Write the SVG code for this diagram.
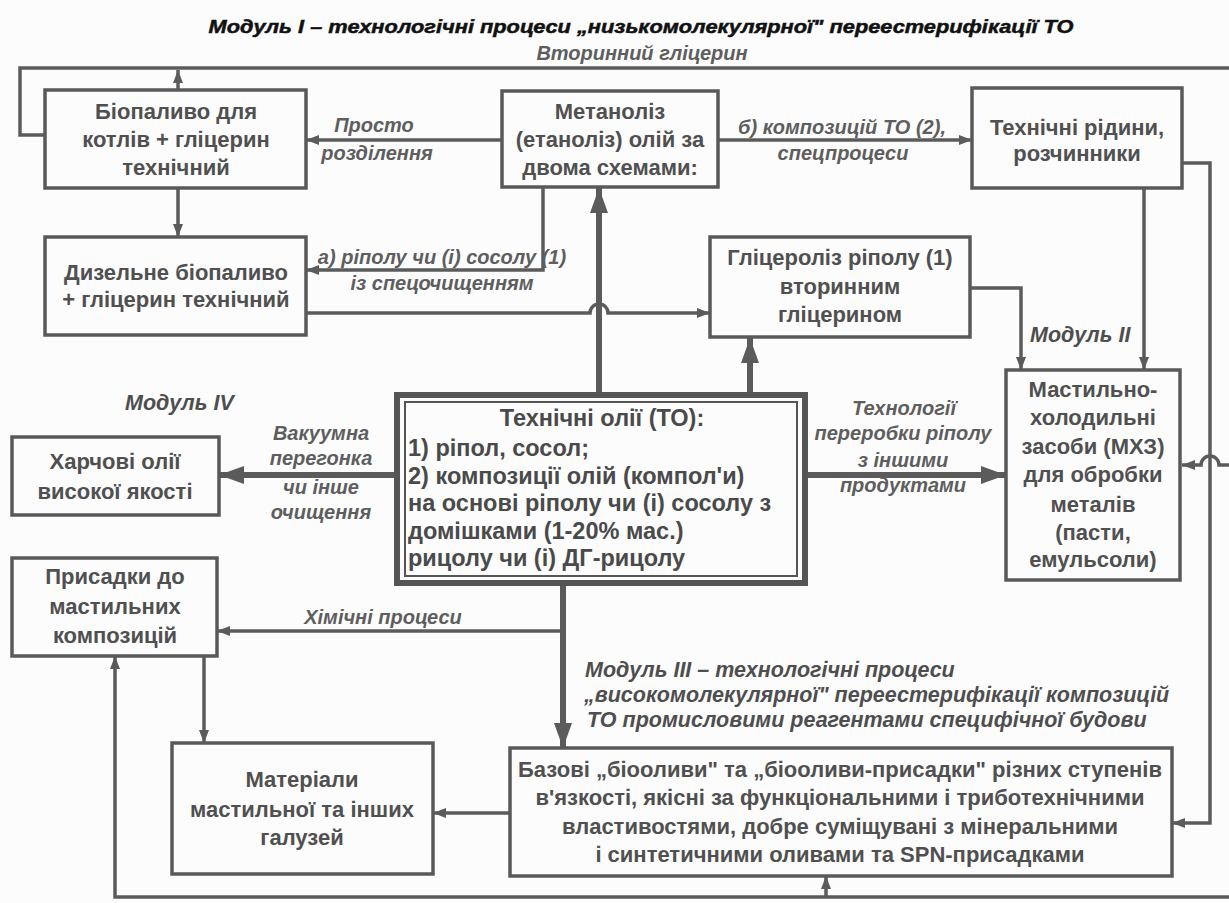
<svg xmlns="http://www.w3.org/2000/svg" width="1229" height="903" viewBox="0 0 1229 903">
<defs>
<style>
.bx{fill:none;stroke:#595959;stroke-width:3.5}
.c{fill:none;stroke:#5b5b5b;stroke-width:3.5}
.ck{fill:none;stroke:#5b5b5b;stroke-width:6}
.t{font-family:"Liberation Sans",Arial,sans-serif;font-weight:bold;font-size:22px;fill:#505050;text-anchor:middle}
.tl{font-family:"Liberation Sans",Arial,sans-serif;font-weight:bold;font-size:23.5px;fill:#4a4a4a}
.l{font-family:"Liberation Sans",Arial,sans-serif;font-weight:bold;font-style:italic;font-size:20px;fill:#5e5e5e;text-anchor:middle}
.m{font-family:"Liberation Sans",Arial,sans-serif;font-weight:bold;font-style:italic;font-size:21.5px;fill:#4e4e4e}
.ti{font-family:"Liberation Sans",Arial,sans-serif;font-weight:bold;font-style:italic;font-size:19px;fill:#111;stroke:#111;stroke-width:0.5;text-anchor:middle}
</style>
<marker id="a" markerUnits="userSpaceOnUse" markerWidth="14" markerHeight="12" refX="13" refY="6" orient="auto"><path d="M0,1 L13,6 L0,11 z" fill="#5b5b5b"/></marker>
<marker id="b" markerUnits="userSpaceOnUse" markerWidth="26" markerHeight="20" refX="25" refY="10" orient="auto"><path d="M0,1 L25,10 L0,19 z" fill="#5b5b5b"/></marker>
</defs>
<rect width="1229" height="903" fill="#fcfcfc"/>

<text class="ti" x="641" y="33" textLength="865" lengthAdjust="spacingAndGlyphs">Модуль І – технологічні процеси „низькомолекулярної" переестерифікації ТО</text>

<g id="connectors">
  <path class="c" d="M1229,68 H20 V135 H45"/>
  <path class="c" d="M178,90 V70" marker-end="url(#a)"/>
  <text class="l" x="642" y="60">Вторинний гліцерин</text>
  <path class="c" d="M502,140 H306" marker-end="url(#a)"/>
  <text class="l" x="374" y="132">Просто</text>
  <text class="l" x="377" y="160">розділення</text>
  <path class="c" d="M718,140 H972" marker-end="url(#a)"/>
  <text class="l" x="842" y="134">б) композицій ТО (2),</text>
  <text class="l" x="843" y="160">спецпроцеси</text>
  <path class="c" d="M178,188 V237" marker-end="url(#a)"/>
  <path class="c" d="M543,187 V270 H306" marker-end="url(#a)"/>
  <text class="l" x="442" y="264">а) ріполу чи (і) сосолу (1)</text>
  <text class="l" x="442" y="290">із спецочищенням</text>
  <path class="c" d="M306,313 H590 A9,9 0 0 1 608,313 H710" marker-end="url(#a)"/>
  <path class="ck" d="M599,393 V188" marker-end="url(#b)"/>
  <path class="ck" d="M750,393 V338" marker-end="url(#b)"/>
  <path class="c" d="M970,288 H1021 V370" marker-end="url(#a)"/>
  <path class="c" d="M1144,188 V370" marker-end="url(#a)"/>
  <text class="m" x="1030" y="342">Модуль ІІ</text>
  <path class="c" d="M1182,163 H1210 V823 H1172" marker-end="url(#a)"/>
  <path class="c" d="M1229,465 H1219 A9,9 0 0 0 1201,465 H1182" marker-end="url(#a)"/>
  <path class="ck" d="M807,475 H1006" marker-end="url(#b)"/>
  <text class="l" x="904" y="415">Технології</text>
  <text class="l" x="903" y="440">переробки ріполу</text>
  <text class="l" x="903" y="467">з іншими</text>
  <text class="l" x="903" y="492">продуктами</text>
  <path class="ck" d="M395,475 H219" marker-end="url(#b)"/>
  <text class="l" x="321" y="440">Вакуумна</text>
  <text class="l" x="321" y="465">перегонка</text>
  <text class="l" x="321" y="494">чи інше</text>
  <text class="l" x="321" y="519">очищення</text>
  <text class="m" x="125" y="410">Модуль ІV</text>
  <path class="ck" d="M563,585 V748" marker-end="url(#b)"/>
  <path class="c" d="M563,631 H217" marker-end="url(#a)"/>
  <text class="l" x="383" y="624">Хімічні процеси</text>
  <text class="m" x="585" y="677">Модуль ІІІ – технологічні процеси</text>
  <text class="m" x="584" y="702">„високомолекулярної" переестерифікації композицій</text>
  <text class="m" x="587" y="727">ТО промисловими реагентами специфічної будови</text>
  <path class="c" d="M204,656 V743" marker-end="url(#a)"/>
  <path class="c" d="M510,813 H433" marker-end="url(#a)"/>
  <path class="c" d="M1229,897 H115 V656" marker-end="url(#a)"/>
  <path class="c" d="M826,897 V876" marker-end="url(#a)"/>
</g>

<g id="nodeA">
  <rect class="bx" x="45" y="90" width="261" height="98"/>
  <text class="t" x="176" y="119">Біопаливо для</text>
  <text class="t" x="176" y="147">котлів + гліцерин</text>
  <text class="t" x="176" y="175">технічний</text>
</g>
<g id="nodeB">
  <rect class="bx" x="502" y="91" width="216" height="96"/>
  <text class="t" x="610" y="119">Метаноліз</text>
  <text class="t" x="610" y="147">(етаноліз) олій за</text>
  <text class="t" x="610" y="175">двома схемами:</text>
</g>
<g id="nodeC">
  <rect class="bx" x="972" y="88" width="210" height="100"/>
  <text class="t" x="1077" y="135">Технічні рідини,</text>
  <text class="t" x="1077" y="161">розчинники</text>
</g>
<g id="nodeD">
  <rect class="bx" x="45" y="237" width="261" height="98"/>
  <text class="t" x="176" y="280">Дизельне біопаливо</text>
  <text class="t" x="176" y="307">+ гліцерин технічний</text>
</g>
<g id="nodeF">
  <rect class="bx" x="710" y="237" width="260" height="100"/>
  <text class="t" x="840" y="265">Гліцероліз ріполу (1)</text>
  <text class="t" x="840" y="294">вторинним</text>
  <text class="t" x="840" y="322">гліцерином</text>
</g>
<g id="nodeG">
  <rect class="bx" x="1006" y="370" width="174" height="210"/>
  <text class="t" x="1093" y="397">Мастильно-</text>
  <text class="t" x="1093" y="425">холодильні</text>
  <text class="t" x="1093" y="454">засоби (МХЗ)</text>
  <text class="t" x="1093" y="482">для обробки</text>
  <text class="t" x="1093" y="512">металів</text>
  <text class="t" x="1093" y="540">(пасти,</text>
  <text class="t" x="1093" y="567">емульсоли)</text>
</g>
<g id="nodeE">
  <rect x="397" y="395" width="408" height="188" fill="none" stroke="#555" stroke-width="6"/>
  <rect x="405" y="402" width="392" height="174" fill="none" stroke="#555" stroke-width="2"/>
  <text class="tl" x="602" y="426" text-anchor="middle">Технічні олії (ТО):</text>
  <text class="tl" x="408" y="456">1) ріпол, сосол;</text>
  <text class="tl" x="408" y="484">2) композиції олій (компол'и)</text>
  <text class="tl" x="408" y="511">на основі ріполу чи (і) сосолу з</text>
  <text class="tl" x="408" y="539">домішками (1-20% мас.)</text>
  <text class="tl" x="408" y="566">рицолу чи (і) ДГ-рицолу</text>
</g>
<g id="nodeH">
  <rect class="bx" x="12" y="437" width="207" height="78"/>
  <text class="t" x="115" y="469">Харчові олії</text>
  <text class="t" x="115" y="499">високої якості</text>
</g>
<g id="nodeI">
  <rect class="bx" x="12" y="558" width="205" height="98"/>
  <text class="t" x="115" y="584">Присадки до</text>
  <text class="t" x="115" y="614">мастильних</text>
  <text class="t" x="115" y="643">композицій</text>
</g>
<g id="nodeK">
  <rect class="bx" x="172" y="743" width="261" height="131"/>
  <text class="t" x="302" y="787">Матеріали</text>
  <text class="t" x="302" y="817">мастильної та інших</text>
  <text class="t" x="302" y="845">галузей</text>
</g>
<g id="nodeJ">
  <rect class="bx" x="510" y="748" width="662" height="128"/>
  <text class="t" x="840" y="777">Базові „біооливи" та „біооливи-присадки" різних ступенів</text>
  <text class="t" x="840" y="805">в'язкості, якісні за функціональними і триботехнічними</text>
  <text class="t" x="840" y="834">властивостями, добре суміщувані з мінеральними</text>
  <text class="t" x="840" y="862">і синтетичними оливами та SPN-присадками</text>
</g>
</svg>
